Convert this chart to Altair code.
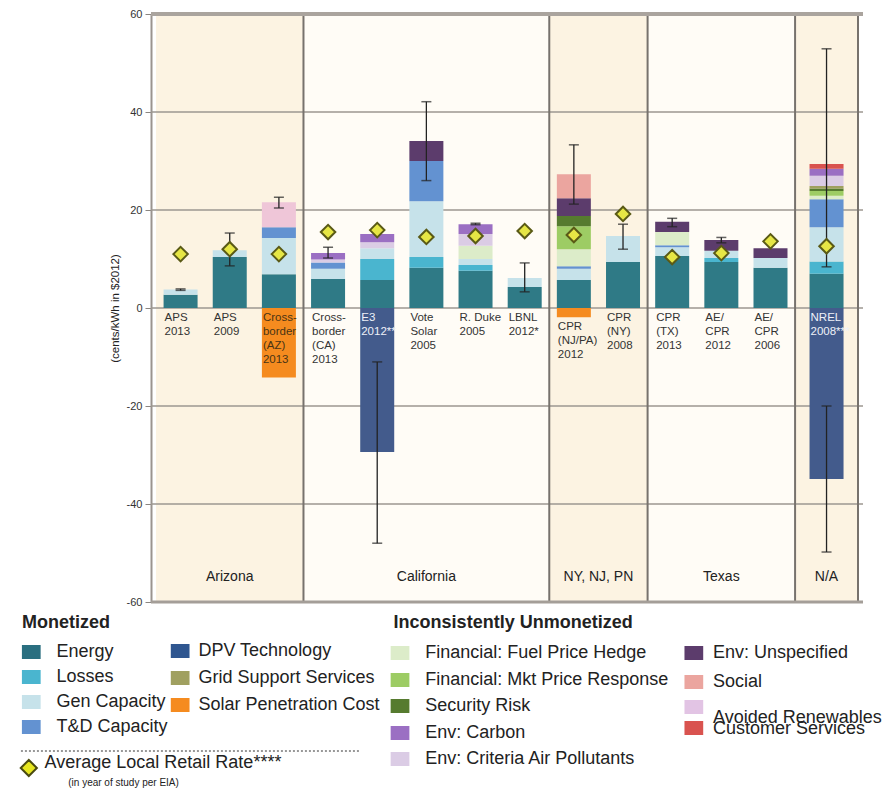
import altair as alt
import pandas as pd

# ---------------- data ----------------
studies = ["APS 2013", "APS 2009", "Cross-border (AZ) 2013", "Cross-border (CA) 2013",
           "E3 2012**", "Vote Solar 2005", "R. Duke 2005", "LBNL 2012*",
           "CPR (NJ/PA) 2012", "CPR (NY) 2008", "CPR (TX) 2013", "AE/CPR 2012",
           "AE/CPR 2006", "NREL 2008***"]
study_labels = ["APS\n2013", "APS\n2009", "Cross-\nborder\n(AZ)\n2013", "Cross-\nborder\n(CA)\n2013",
                "E3\n2012**", "Vote\nSolar\n2005", "R. Duke\n2005", "LBNL\n2012*",
                "CPR\n(NJ/PA)\n2012", "CPR\n(NY)\n2008", "CPR\n(TX)\n2013", "AE/\nCPR\n2012",
                "AE/\nCPR\n2006", "NREL\n2008***"]
study_region = ["Arizona"] * 3 + ["California"] * 5 + ["NY, NJ, PN"] * 2 + ["Texas"] * 3 + ["N/A"]
regions = ["Arizona", "California", "NY, NJ, PN", "Texas", "N/A"]

series_names = ["Energy", "Losses", "Gen Capacity", "T&D Capacity",
                "Financial: Fuel Price Hedge", "Financial: Mkt Price Response", "Security Risk",
                "Grid Support Services", "Env: Criteria Air Pollutants", "Env: Carbon",
                "Env: Unspecified", "Avoided Renewables", "Social", "Customer Services",
                "DPV Technology", "Solar Penetration Cost"]

energy             = [2.7, 10.4, 6.9, 5.9, 5.7, 8.2, 7.6, 4.3, 5.7, 9.4, 10.6, 9.4, 8.2, 7.0]
losses             = [0, 0, 0, 0, 4.3, 2.2, 1.2, 0, 0, 0, 0, 0.8, 0, 2.5]
gen_capacity       = [1.1, 1.4, 7.4, 2.1, 2.2, 11.4, 1.2, 1.8, 2.3, 5.3, 1.8, 1.5, 2.0, 7.0]
td_capacity        = [0, 0, 2.2, 1.3, 0, 8.2, 0, 0, 0.5, 0, 0.4, 0, 0, 5.7]
fuel_hedge         = [0, 0, 0, 0, 0, 0, 2.7, 0, 3.5, 0, 2.7, 0, 0, 0.7]
mkt_price          = [0, 0, 0, 0, 0, 0, 0, 0, 4.7, 0, 0, 0, 0, 1.0]
security_risk      = [0, 0, 0, 0, 0, 0, 0, 0, 2.1, 0, 0, 0, 0, 0.5]
grid_support       = [0, 0, 0, 0, 0, 0, 0, 0, 0, 0, 0, 0, 0, 0.5]
env_criteria       = [0, 0, 0, 0.6, 1.2, 0, 2.4, 0, 0, 0, 0, 0, 0, 2.1]
env_carbon         = [0, 0, 0, 1.3, 1.7, 0, 2.0, 0, 0, 0, 0, 0, 0, 1.4]
env_unspecified    = [0, 0, 0, 0, 0, 4.1, 0, 0, 3.6, 0, 2.1, 2.2, 2.0, 0]
avoided_renewables = [0, 0, 5.1, 0, 0, 0, 0, 0, 0, 0, 0, 0, 0, 0]
social             = [0, 0, 0, 0, 0, 0, 0, 0, 4.9, 0, 0, 0, 0, 0]
customer_services  = [0, 0, 0, 0, 0, 0, 0, 0, 0, 0, 0, 0, 0, 1.0]
dpv_technology     = [0, 0, 0, 0, -29.4, 0, 0, 0, 0, 0, 0, 0, 0, -34.9]
solar_penetration  = [0, 0, -14.2, 0, 0, 0, 0, 0, -1.9, 0, 0, 0, 0, 0]

series_values = [energy, losses, gen_capacity, td_capacity, fuel_hedge, mkt_price,
                 security_risk, grid_support, env_criteria, env_carbon, env_unspecified,
                 avoided_renewables, social, customer_services, dpv_technology, solar_penetration]

retail_rate = [11.0, 12.0, 11.0, 15.5, 15.9, 14.5, 14.7, 15.7, 14.9, 19.2, 10.4, 11.2, 13.6, 12.6]

err_study = ["APS 2013", "APS 2009", "Cross-border (AZ) 2013", "Cross-border (CA) 2013",
             "E3 2012**", "Vote Solar 2005", "R. Duke 2005", "LBNL 2012*", "CPR (NJ/PA) 2012",
             "CPR (NY) 2008", "CPR (TX) 2013", "AE/CPR 2012", "NREL 2008***", "NREL 2008***"]
err_low  = [3.6, 8.6, 20.4, 10.2, -48.0, 26.0, 17.0, 3.3, 21.2, 12.0, 16.6, 13.3, 8.4, -49.8]
err_high = [3.9, 15.3, 22.6, 12.4, -11.0, 42.1, 17.3, 9.2, 33.3, 17.1, 18.3, 14.4, 52.9, -20.0]

# ---------------- styles / layout ----------------
series_colors = ["#2f7a86", "#4ab5cf", "#c6e2ea", "#6392d1",
                 "#dcecc9", "#9dcc64", "#567b2f", "#a0a060",
                 "#dbcce5", "#9b6fc3", "#5c3c6c", "#efc6d8", "#eba59f", "#d9534f",
                 "#435b8c", "#f58b1f"]
legend_swatch_colors = dict(zip(series_names, series_colors))
legend_swatch_colors["DPV Technology"] = "#2f5690"
legend_swatch_colors["Energy"] = "#2a6f80"
legend_swatch_colors["Avoided Renewables"] = "#e2c4e4"

region_widths = [3, 5, 2, 3, 1.28]
region_fill = ["#fcf3e2", "#fffcf6", "#fcf3e2", "#fffcf6", "#fcf3e2"]
W, H = 712, 588
X_MAX = sum(region_widths)
PLOT_LEFT, PLOT_TOP = 152, 14          # page position of the plot area
FONT = "Liberation Sans"

def px_x(px):
    return (px - PLOT_LEFT) * X_MAX / W

def px_y(py):
    return 60 - (py - PLOT_TOP) * 120 / H

xscale = alt.Scale(domain=[0, X_MAX], nice=False, zero=False)
yscale = alt.Scale(domain=[-60, 60], nice=False, zero=False)
yaxis = alt.Axis(values=[-60, -40, -20, 0, 20, 40, 60], title="(cents/kWh in $2012)",
                 labelExpr="toString(datum.value)",
                 grid=False, labelFontSize=11, labelColor="#333", labelFont=FONT,
                 tickColor="#8a8580", tickSize=6, domainColor="#9a948f", domainWidth=2,
                 labelPadding=3, titleFontSize=11.5, titleFontWeight="normal",
                 titleFont=FONT, titleColor="#222", titlePadding=6)

# region edges and bar centres
edges = [0]
for w in region_widths:
    edges.append(edges[-1] + w)
centers = []
for i, s in enumerate(studies):
    r = regions.index(study_region[i])
    members = [j for j, rr in enumerate(study_region) if rr == study_region[i]]
    k = members.index(i)
    n = len(members)
    centers.append(edges[r] + (region_widths[r] - n) / 2 + 0.5 + k)
xc_of = dict(zip(studies, centers))

# ---------------- tables ----------------
bar_rows = []
for si, (name, vals) in enumerate(zip(series_names, series_values)):
    for i, v in enumerate(vals):
        if v != 0:
            bar_rows.append({"study": studies[i], "xc": centers[i], "series": name, "value": v, "ord": si})
df_bars = pd.DataFrame(bar_rows)

df_regions = pd.DataFrame({"region": regions, "x0": edges[:-1], "x1": edges[1:],
                           "fill": region_fill, "lo": -60, "hi": 60,
                           "xm": [(a + b) / 2 for a, b in zip(edges[:-1], edges[1:])]})
df_regions["ylab"] = px_y(577)

df_grid = pd.DataFrame({"v": [-40, -20, 0, 20, 40]})
df_div = pd.DataFrame({"e": edges[1:]})

neg_total = [dpv_technology[i] + solar_penetration[i] for i in range(len(studies))]
label_rows = []
for i, s in enumerate(studies):
    anchor = neg_total[i] if -5 < neg_total[i] < 0 else 0
    if dpv_technology[i] < 0:
        col = "#eef1f8"
    elif neg_total[i] <= -5:
        col = "#4a3414"
    else:
        col = "#333333"
    label_rows.append({"xc": centers[i], "y": anchor, "label": study_labels[i], "col": col})
df_labels = pd.DataFrame(label_rows)

df_err = pd.DataFrame({"xc": [xc_of[s] for s in err_study], "lo": err_low, "hi": err_high})
df_caps = pd.concat([df_err[["xc"]].assign(v=df_err["lo"]), df_err[["xc"]].assign(v=df_err["hi"])])

df_rate = pd.DataFrame({"xc": centers, "rate": retail_rate})

# legend layout
legend_cols = [
    ["Energy", "Losses", "Gen Capacity", "T&D Capacity"],
    ["DPV Technology", "Grid Support Services", "Solar Penetration Cost"],
    ["Financial: Fuel Price Hedge", "Financial: Mkt Price Response", "Security Risk",
     "Env: Carbon", "Env: Criteria Air Pollutants"],
    ["Env: Unspecified", "Social", "Avoided Renewables", "Customer Services"],
]
col_swatch_x = [16, 167, 390, 688]
col_text_x = [51, 195, 425, 717]
col_swatch_y = [[652, 677, 702, 727], [651, 678, 705], [653, 680, 706, 733, 759], [653, 682, 707, 728]]
col_text_y = [[652, 677, 702, 727], [651, 678, 705], [653, 680, 706, 733, 759], [653, 682, 718, 729]]
sw_rows, lt_rows = [], []
for c, names in enumerate(legend_cols):
    for r, name in enumerate(names):
        sy = col_swatch_y[c][r]
        sw_rows.append({"x0": px_x(col_swatch_x[c]), "x1": px_x(col_swatch_x[c] + 19),
                        "y0": px_y(sy - 7), "y1": px_y(sy + 7), "series": name,
                        "color": legend_swatch_colors[name]})
        lt_rows.append({"x": px_x(col_text_x[c]), "y": px_y(col_text_y[c][r]), "t": name})
df_sw = pd.DataFrame(sw_rows)
df_lt = pd.DataFrame(lt_rows)
df_head = pd.DataFrame({"x": [px_x(16), px_x(393)], "y": [px_y(623), px_y(623)],
                        "t": ["Monetized", "Inconsistently Unmonetized"]})
df_dash = pd.DataFrame({"x0": [px_x(15)], "x1": [px_x(358)], "y": [px_y(751)]})
df_ldia = pd.DataFrame({"x": [px_x(23)], "y": [px_y(768)]})
df_ltxt = pd.DataFrame({"x": [px_x(39), px_x(63)], "y": [px_y(763), px_y(783)],
                        "t": ["Average Local Retail Rate****", "(in year of study per EIA)"],
                        "s": [18, 10]})

# ---------------- layers ----------------
X = lambda f: alt.X(f, scale=xscale, axis=None)
Y = lambda f: alt.Y(f, scale=yscale, axis=yaxis)

backgrounds = alt.Chart(df_regions).mark_rect(strokeWidth=0).encode(
    x=X("x0:Q"), x2="x1:Q", y=Y("lo:Q"), y2="hi:Q",
    color=alt.Color("fill:N", scale=None))

grid = alt.Chart(df_grid).mark_rule(color="#9d9791", strokeWidth=1.3).encode(y=Y("v:Q"))

dividers = alt.Chart(df_div).mark_rule(color="#77726d", strokeWidth=2).encode(x=X("e:Q"))

top_border = alt.Chart(pd.DataFrame({"v": [60]})).mark_rule(color="#aaa49e", strokeWidth=4).encode(y=Y("v:Q"))
bottom_border = alt.Chart(pd.DataFrame({"v": [-60]})).mark_rule(color="#a49e98", strokeWidth=3).encode(y=Y("v:Q"))

bars = alt.Chart(df_bars).mark_bar(size=34, strokeWidth=0).encode(
    x=X("xc:Q"),
    y=alt.Y("value:Q", stack="zero", scale=yscale, axis=yaxis),
    color=alt.Color("series:N", scale=alt.Scale(domain=series_names, range=series_colors), legend=None),
    order=alt.Order("ord:Q", sort="ascending"),
)

err_rules = alt.Chart(df_err).mark_rule(color="#222", strokeWidth=1.3).encode(
    x=X("xc:Q"), y=Y("lo:Q"), y2="hi:Q")
err_caps = alt.Chart(df_caps).mark_tick(color="#222", orient="horizontal", size=10, thickness=1.5).encode(
    x=X("xc:Q"), y=Y("v:Q"))

diamonds = alt.Chart(df_rate).mark_point(shape="diamond", filled=True, size=210, fill="#e6e645",
                                         stroke="#5a5a16", strokeWidth=2, opacity=1).encode(
    x=X("xc:Q"), y=Y("rate:Q"))

study_text = alt.Chart(df_labels).mark_text(lineBreak="\n", align="left", baseline="top", dx=-16, dy=4,
                                            fontSize=11.5, lineHeight=14, font=FONT).encode(
    x=X("xc:Q"), y=Y("y:Q"), text="label:N", color=alt.Color("col:N", scale=None))

region_text = alt.Chart(df_regions).mark_text(fontSize=14, font=FONT, color="#222", baseline="middle").encode(
    x=X("xm:Q"), y=Y("ylab:Q"), text="region:N")

leg_sw = alt.Chart(df_sw).mark_rect(strokeWidth=0).encode(
    x=X("x0:Q"), x2="x1:Q", y=Y("y0:Q"), y2="y1:Q", color=alt.Color("color:N", scale=None))
leg_txt = alt.Chart(df_lt).mark_text(align="left", baseline="middle", fontSize=18, font=FONT,
                                     color="#222").encode(x=X("x:Q"), y=Y("y:Q"), text="t:N")
leg_head = alt.Chart(df_head).mark_text(align="left", baseline="middle", fontSize=18, font=FONT,
                                        fontWeight="bold", color="#222").encode(
    x=X("x:Q"), y=Y("y:Q"), text="t:N")
leg_dash = alt.Chart(df_dash).mark_rule(color="#333", strokeWidth=1, strokeDash=[2, 2]).encode(
    x=X("x0:Q"), x2="x1:Q", y=Y("y:Q"))
leg_dia = alt.Chart(df_ldia).mark_point(shape="diamond", filled=True, size=260, fill="#e6e620",
                                        stroke="#4a4a10", strokeWidth=2, opacity=1).encode(
    x=X("x:Q"), y=Y("y:Q"))
leg_rate_txt = alt.Chart(df_ltxt).mark_text(align="left", baseline="middle", font=FONT,
                                            color="#222").encode(
    x=X("x:Q"), y=Y("y:Q"), text="t:N", size=alt.Size("s:Q", scale=None, legend=None))

chart = alt.layer(
    backgrounds, grid, dividers, top_border, bottom_border,
    bars, err_rules, err_caps, diamonds, study_text, region_text,
    leg_sw, leg_txt, leg_head, leg_dash, leg_dia, leg_rate_txt,
).properties(
    width=W, height=H,
    padding={"left": 8, "top": 0, "right": 0, "bottom": 0},
    background="white",
).configure_view(stroke=None)

chart.save("out.html", embed_options={"renderer": "svg", "actions": False})
